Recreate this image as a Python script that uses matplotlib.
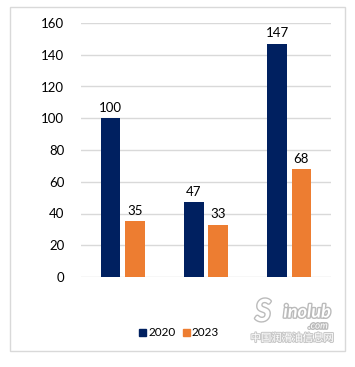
import matplotlib
matplotlib.use("Agg")
import matplotlib.pyplot as plt
from matplotlib.patches import Rectangle, Patch
import matplotlib.patheffects as pe
import numpy as np

# ---- data ----
categories = ["", "", ""]
series_names = ["2020", "2023"]
values_2020 = [100, 47, 147]
values_2023 = [35, 33, 68]
y_ticks = [0, 20, 40, 60, 80, 100, 120, 140, 160]

colors = ["#002060", "#ED7D31"]

plt.rcParams['font.family'] = ['Lato', 'Noto Sans CJK SC', 'DejaVu Sans']

W, H = 355, 367
fig = plt.figure(figsize=(W / 100, H / 100), dpi=100)
fig.patch.set_facecolor("white")

# outer frame
fig.patches.append(Rectangle((10 / W, 1 - 351 / H), 335 / W, 344 / H,
                             transform=fig.transFigure, fill=False,
                             edgecolor="#D9D9D9", linewidth=1.0))

ax = fig.add_axes([81 / W, 90 / H, 250 / W, 254 / H])
x = np.arange(len(categories))
bw = 0.235
off = 0.145
b1 = ax.bar(x - off, values_2020, bw, color=colors[0], label=series_names[0], zorder=3)
b2 = ax.bar(x + off, values_2023, bw, color=colors[1], label=series_names[1], zorder=3)

for bars, vals in ((b1, values_2020), (b2, values_2023)):
    for rect, v in zip(bars, vals):
        ax.annotate(f"{v}", (rect.get_x() + rect.get_width() / 2, v),
                    xytext=(0, 3), textcoords="offset points",
                    ha="center", va="bottom", fontsize=9.5, color="#000000")

ax.set_xlim(-0.5, len(categories) - 0.5)
ax.set_ylim(0, 160)
ax.set_yticks(y_ticks)
ax.set_xticks(x)
ax.set_xticklabels(categories)
ax.tick_params(axis="both", length=0, labelsize=9.5, colors="#000000", pad=12)
ax.tick_params(axis="x", labelbottom=False)
ax.grid(axis="y", color="#D9D9D9", linewidth=1.0, zorder=0)
for s in ax.spines.values():
    s.set_visible(False)

handles = [Patch(color=colors[0]), Patch(color=colors[1])]
fig.legend(handles, series_names, loc="center", bbox_to_anchor=(179 / W, 1 - 333 / H),
           ncol=2, frameon=False, fontsize=8.5, handlelength=0.6, handleheight=0.6,
           handletextpad=0.2, columnspacing=0.6)

# watermark
stroke = [pe.withStroke(linewidth=2, foreground="#BBBBBB")]
fig.text(263 / W, 1 - 312 / H, "S", fontsize=22, fontweight="bold", style="italic",
         color="white", ha="center", va="center", path_effects=stroke)
fig.text(307 / W, 1 - 312 / H, "inolub", fontsize=13, fontweight="bold", style="italic",
         color="white", ha="center", va="center", path_effects=stroke)
fig.text(318 / W, 1 - 326 / H, ".com", fontsize=7, style="italic",
         color="white", ha="center", va="center", path_effects=stroke)
fig.text(292 / W, 1 - 338 / H, "中国润滑油信息网", fontsize=7.5,
         color="white", ha="center", va="center",
         path_effects=[pe.withStroke(linewidth=1.5, foreground="#C8C8C8")])

fig.savefig("out.png", dpi=100, facecolor="white")
